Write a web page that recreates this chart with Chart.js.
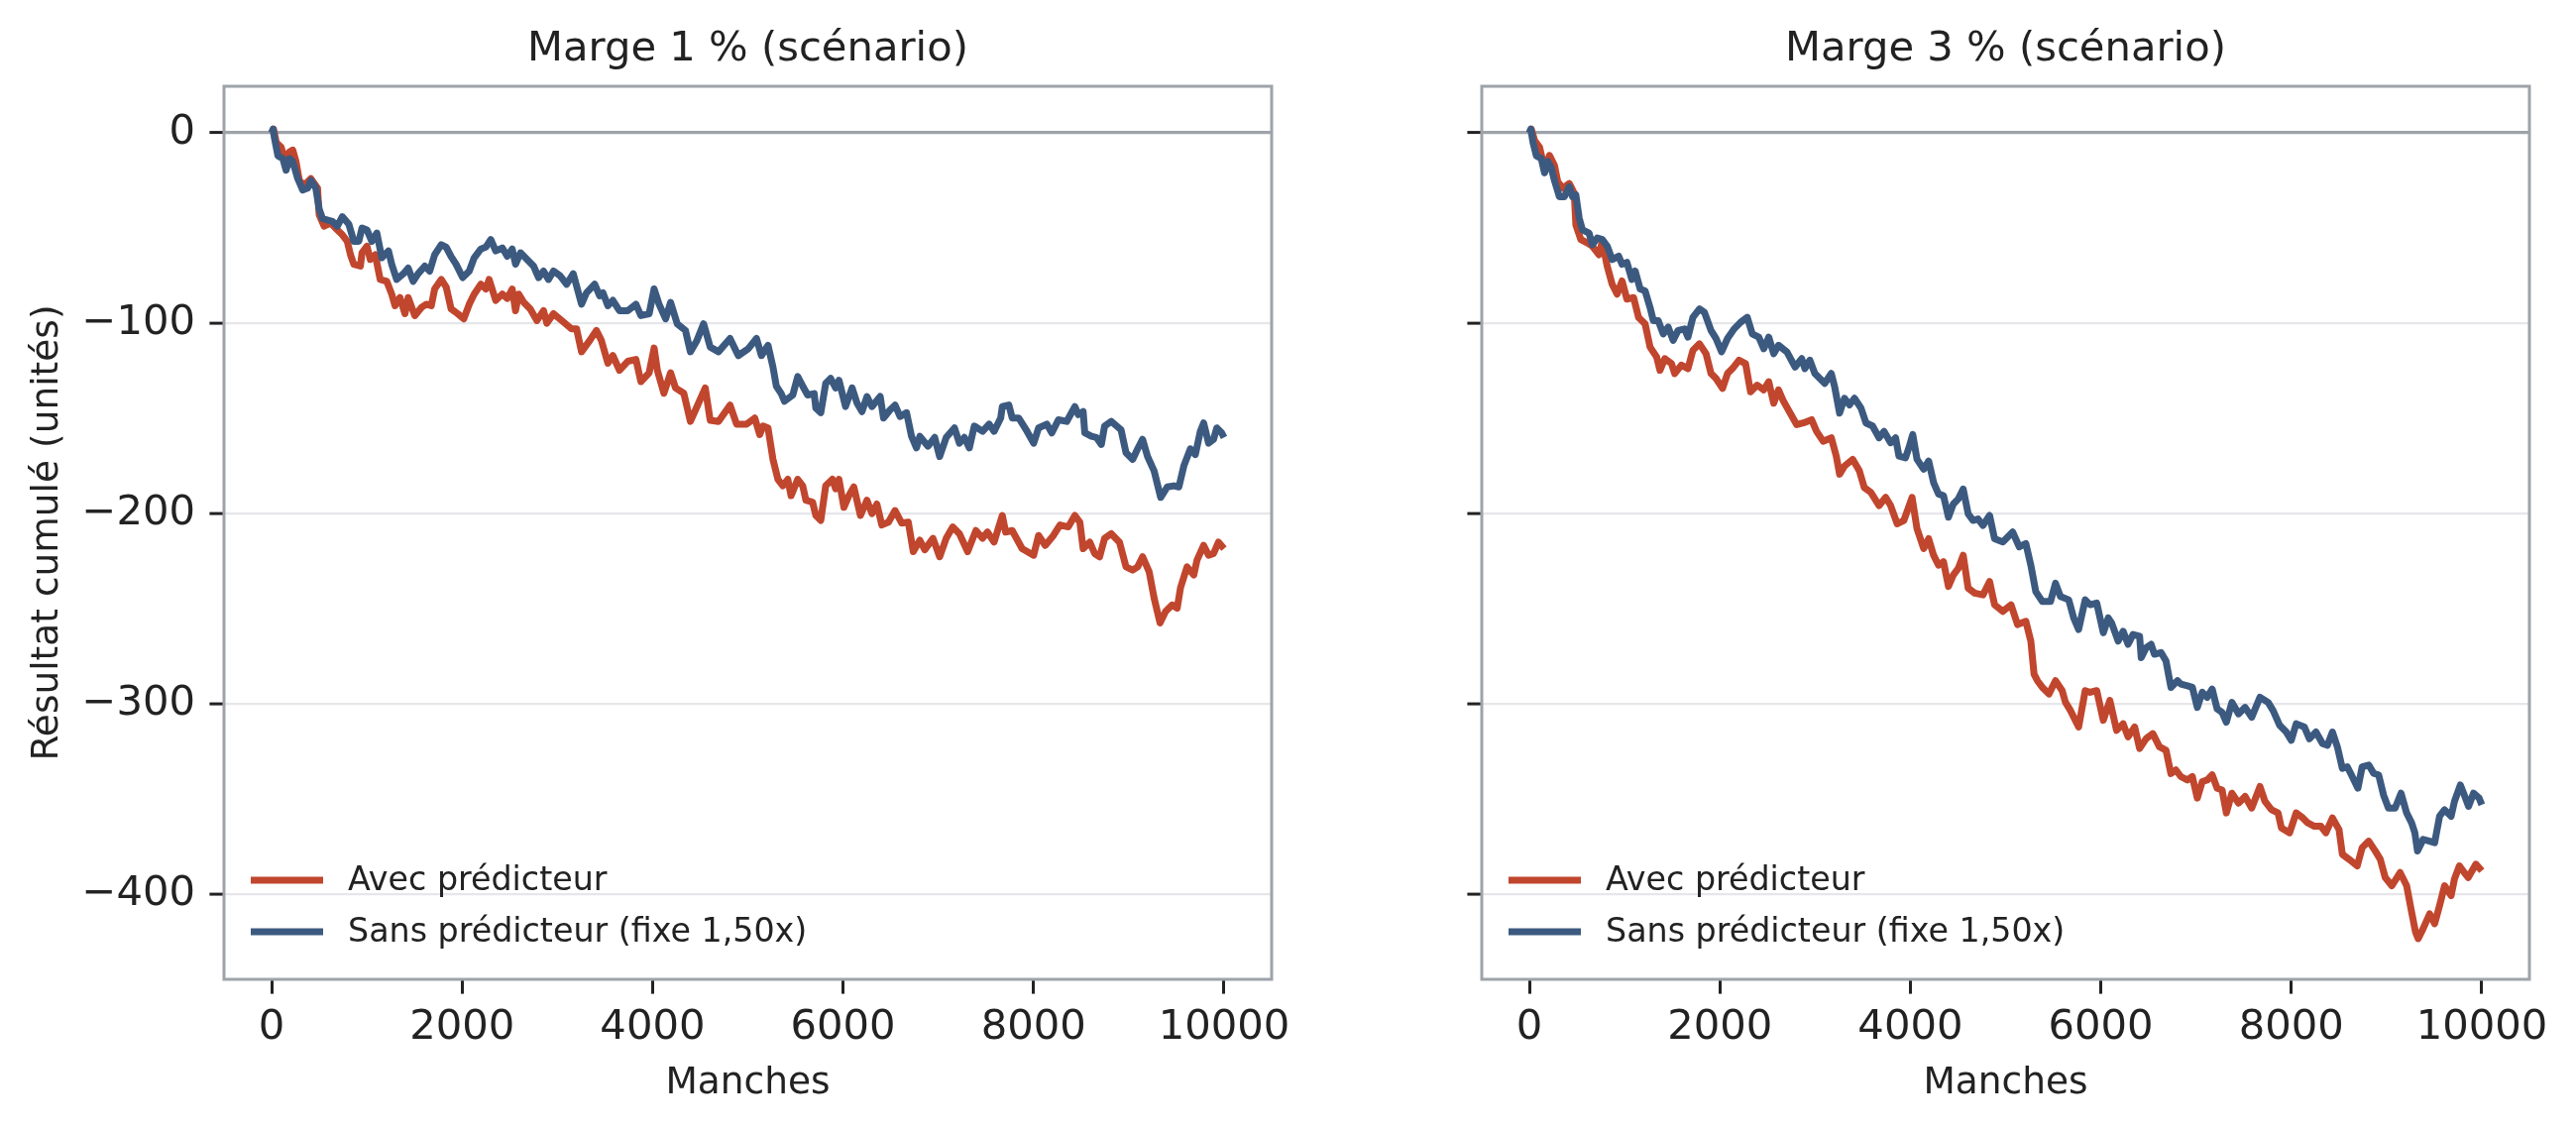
<!DOCTYPE html>
<html><head><meta charset="utf-8">
<script src="https://cdn.jsdelivr.net/npm/chart.js@4.4.1/dist/chart.umd.min.js"></script>
<style>
html,body{margin:0;padding:0;background:#fff;}
#wrap{position:relative;width:2599px;height:1140px;background:#fff;overflow:hidden;}
.box{position:absolute;top:0;height:1140px;}
#b1{left:0;width:1400px;}
#b2{left:1300px;width:1299px;}
</style></head><body>
<div id="wrap"><div class="box" id="b1"><canvas id="c1"></canvas></div><div class="box" id="b2"><canvas id="c2"></canvas></div></div>
<script>
const panelTitles = ["Marge 1 % (scénario)", "Marge 3 % (scénario)"];
const seriesLabels = ["Avec prédicteur", "Sans prédicteur (fixe 1,50x)"];
const xAxisTitle = "Manches";
const yAxisTitle = "Résultat cumulé (unités)";
const xTicks = [0, 2000, 4000, 6000, 8000, 10000];
const yTicks = [-400, -300, -200, -100, 0];
const yTickLabels = ["−400", "−300", "−200", "−100", "0"];

// Marge 1 % — Avec prédicteur
const m1AvecX = [0,20,49,100,135,187,222,256,291,343,412,482,499,551,620,690,742,794,828,863,932,949,1001,1036,1088,1140,1209,1261,1296,1348,1400,1434,1503,1573,1625,1677,1712,1781,1833,1885,1954,2017,2075,2127,2197,2249,2284,2353,2422,2474,2526,2561,2595,2647,2716,2786,2855,2890,2959,3046,3150,3202,3254,3341,3410,3462,3531,3583,3652,3739,3825,3877,3964,4016,4050,4119,4189,4241,4328,4397,4466,4553,4605,4692,4813,4882,4986,
5004,5073,5125,5160,5212,5264,5316,5368,5420,5454,5524,5576,5610,5680,5714,5766,5818,5888,5922,5957,6009,6061,6113,6182,6251,6303,6355,6407,6477,6546,6615,6685,6737,6806,6858,6944,7014,7083,7152,7222,7308,7395,7464,7516,7585,7672,7707,7776,7880,8001,8053,8123,8209,8278,8365,8434,8486,8521,8590,8642,8694,8746,8816,8902,8971,9041,9093,9145,9214,9266,9328,9387,9456,9508,9543,9612,9682,9716,9786,9838,9890,9942,10000];
const m1AvecY = [0,2,-5,-7.5,-13.5,-10,-9,-15,-25,-27.4,-24,-29,-43,-49,-47.4,-51,-53.5,-57,-64,-69,-70,-63,-59.5,-66.5,-64,-77,-78,-84.7,-90.8,-86.5,-95,-86.5,-96,-91.7,-90,-90.8,-82,-77,-81,-92.5,-95,-97.7,-90,-84.7,-79.5,-82,-77,-88,-84.7,-87,-82,-93.4,-84.7,-89,-92.5,-98.6,-93.4,-100,-95,-98.6,-103,-103,-115,-109,-103.8,-109,-121,-117,-124.7,-120,-119,-130.7,-126,-113,-124.7,-136.8,-126,-134,-136.8,-151.6,-143.8,-134,-151,-151.6,-143,-153,-153,
-152.4,-149.8,-158.5,-154,-155,-171.5,-182,-185.4,-182,-190.6,-182,-185.4,-193,-194,-201,-203.6,-185.4,-182,-187,-182,-196.7,-190.6,-186,-201,-193,-200,-195,-206,-204.5,-198.4,-205,-204.5,-220,-214,-219,-213,-222.7,-213,-207,-210.6,-220,-208.9,-213,-209.7,-215,-201,-209.7,-208.9,-218.4,-221.9,-211.5,-216.7,-211.5,-206,-207,-201,-204.5,-218.4,-215,-221,-222.7,-213,-210.6,-215,-228,-229.7,-228,-222.7,-230.6,-244.4,-257.5,-251.4,-248,-249.7,-239,-228,-232.3,-224.5,-216.7,-221.9,-221,-215,-218.4];

// Marge 1 % — Sans prédicteur
const m1SansX = [0,15,31,66,118,152,187,222,274,326,378,412,464,499,534,638,690,742,811,863,915,949,1001,1053,1105,1157,1227,1261,1313,1383,1434,1486,1538,1608,1660,1712,1781,1833,1885,1937,2006,2075,2127,2197,2249,2301,2353,2422,2474,2526,2561,2613,2682,2751,2803,2855,2907,2959,3028,3098,3167,3254,3306,3392,3444,3479,3531,3583,3652,3739,3825,3877,3964,4016,4068,4137,4189,4259,4345,4397,4466,4536,4605,4692,4813,4900,
5004,5091,5143,5212,5264,5299,5351,5385,5472,5524,5576,5628,5697,5714,5766,5818,5870,5922,5957,6026,6095,6147,6199,6251,6303,6390,6425,6494,6546,6598,6667,6719,6771,6806,6892,6962,7014,7083,7170,7222,7274,7326,7378,7465,7534,7586,7655,7672,7741,7776,7845,7932,8001,8053,8140,8192,8261,8348,8434,8469,8521,8538,8608,8660,8712,8746,8816,8919,8971,9041,9093,9145,9197,9266,9335,9405,9474,9526,9578,9647,9699,9751,9786,9838,9890,9924,9976,10000];
const m1SansY = [0,2,-3,-12,-13.5,-19.6,-13.5,-15,-24,-30,-29,-25,-29,-40,-45,-46.5,-49,-44,-48,-57,-57,-50,-51,-57,-52.6,-65.6,-62,-69,-77,-74,-71,-78,-74,-70,-72.6,-64,-58.7,-60,-65,-69,-76,-72.6,-65.6,-61,-60,-56,-62,-60.4,-64.8,-61,-69,-63,-66.5,-70,-76,-72.6,-77,-72.6,-75,-79.5,-74,-90,-84,-79.5,-85.6,-84,-90.8,-88,-93.4,-93.4,-90,-96,-95,-82,-90,-97.7,-89,-100.3,-103.8,-115,-109,-100.3,-112.5,-115,-108,-117,
-113.4,-108,-117,-111.6,-123,-133,-137,-141,-137.7,-128,-133,-137.7,-137,-144.6,-147,-131.6,-129,-134,-130,-143.8,-134,-142,-146.4,-138.5,-143.8,-138.5,-149.8,-145.5,-143,-149,-147,-159.4,-165.5,-159.4,-164.6,-160,-170,-160,-155,-163,-160,-165.5,-154,-156.8,-153,-156.8,-149.8,-143.8,-143,-149.8,-149.8,-156.8,-163,-155,-153,-157.6,-150.7,-151.6,-143.8,-148,-146.4,-157.6,-159.4,-160,-163.7,-154,-151.6,-156,-168,-171.5,-166,-161,-170,-177.6,-191.5,-186,-185.4,-186,-175,-166,-169,-156.8,-152.4,-163,-161,-155,-157.6,-160];

// Marge 3 % — Avec prédicteur
const m3AvecX = [0,20,55,107,159,211,263,298,350,419,471,488,540,609,661,730,765,817,869,921,973,1024,1094,1146,1215,1267,1336,1371,1422,1492,1526,1596,1665,1717,1786,1855,1907,1959,2028,2080,2132,2201,2270,2322,2392,2461,2513,2565,2616,2668,2738,2807,2876,2963,3015,3084,3170,3222,3257,3309,3395,3465,3516,3586,3672,3741,3793,3862,3932,4018,4070,
4140,4192,4244,4296,4348,4400,4451,4503,4555,4607,4676,4763,4832,4884,4971,5057,5126,5213,5265,5299,5334,5386,5455,5524,5594,5628,5680,5767,5836,5888,5957,6026,6095,6165,6234,6286,6355,6407,6476,6546,6615,6684,6736,6788,
6840,6909,6961,7013,7065,7117,7169,7221,7273,7318,7376,7446,7515,7584,7671,7723,7792,7861,7896,7982,8051,8121,8173,8242,8311,8363,8432,8501,8536,8605,8692,8744,8813,8882,8934,8986,9055,9142,9211,9263,9304,9332,9384,9453,9505,9557,9609,9678,9713,9765,9816,9858,9938,10000];
const m3AvecY = [0,2,-4,-7.5,-18.8,-11.8,-17,-25.7,-29,-26.6,-31.8,-48.3,-56,-57.8,-59.5,-64,-57,-70,-79.5,-84.7,-77.8,-87.3,-86.5,-96.9,-100.3,-112.5,-117.7,-124.7,-118.6,-121.2,-126.4,-122,-123.8,-114.2,-110.8,-116,-126.4,-129,-134.2,-126.4,-123.8,-119.4,-121.2,-136,-132.5,-135,-130.7,-142,-135,-141,-147.2,-153.3,-152.4,-150.7,-156.8,-162,-160.2,-169.8,-179.3,-175,-171.5,-177.6,-186.3,-188.9,-195.8,-191.5,-195.8,-205.4,-203.6,-191.5,-208,
-218.4,-213.2,-221.9,-227.1,-225.3,-238.3,-232.3,-228.8,-221.9,-239.2,-241.8,-242.7,-235.7,-247.9,-251.4,-247.9,-258.3,-256.6,-267,-284.4,-287.8,-291.3,-294.8,-287.8,-293,-299.1,-303.4,-312.1,-293,-293.9,-293,-308.6,-298.2,-313.9,-310.4,-317.3,-312.1,-323.4,-318.2,-315.6,-322.5,-324.3,-336.6,-334.7,
-338.2,-340,-338.2,-349.5,-340.8,-340,-337.3,-344.3,-345.2,-357.3,-346.9,-352.1,-348.6,-354.7,-343.4,-351.2,-355.6,-357.3,-365.1,-367.7,-357.3,-359.9,-362.5,-364.3,-364.3,-367.7,-359.9,-366,-379,-381.6,-385.1,-375.5,-372.1,-377.3,-381.6,-391.2,-395.5,-388.6,-395.5,-409.4,-419.8,-423.3,-418.1,-410.3,-415.5,-405.9,-395.5,-400.7,-392,-385.1,-388.6,-391.2,-384.2,-387.7];

// Marge 3 % — Sans prédicteur
const m3SansX = [0,15,38,73,125,159,194,228,263,315,367,419,453,488,523,557,626,661,713,765,817,869,938,973,1024,1076,1111,1163,1215,1267,1301,1353,1405,1457,1509,1561,1630,1665,1717,1786,1838,1907,1959,2018,2080,2149,2218,2288,2340,2409,2461,2513,2565,2616,2703,2790,2859,2893,2945,2997,3101,3170,3205,3257,3309,3361,3413,3482,3534,3603,3672,3724,3793,3845,3880,3949,3984,4025,4070,
4140,4192,4244,4296,4348,4400,4451,4503,4555,4607,4659,4711,4763,4832,4884,4971,5074,5144,5213,5265,5317,5386,5472,5524,5576,5663,5715,5767,5836,5888,5957,6026,6078,6113,6182,6234,6286,6338,6407,6424,6476,6528,6563,6632,6684,6736,6805,
6840,6909,6961,7013,7065,7117,7169,7221,7273,7318,7376,7446,7515,7584,7671,7757,7809,7878,7948,8000,8051,8138,8190,8259,8328,8380,8432,8484,8536,8588,8640,8699,8744,8813,8865,8917,8968,9020,9090,9152,9211,9263,9297,9325,9384,9453,9505,9557,9609,9678,9713,9775,9816,9861,9913,9972,10000];
const m3SansY = [0,2,-5,-12,-13.5,-21,-15,-18,-25,-33.5,-33.5,-28.3,-33.5,-32.6,-44.8,-50.9,-52.6,-58.7,-55.2,-56,-59.5,-66.5,-64.8,-69,-68,-77,-72.6,-82,-83,-91.7,-98.6,-98.6,-105.6,-102,-109,-103.8,-103,-107.3,-96.9,-92.5,-94.3,-103.8,-108,-115,-108,-103,-99.5,-96.9,-105.6,-107.3,-113.4,-107.3,-116,-111.6,-115,-123,-118.6,-123.8,-119.4,-126.4,-131.6,-126.4,-133.3,-147.2,-139.4,-142.9,-139.4,-144.6,-152.4,-154,-160.2,-156.8,-162.8,-160.2,-169.8,-170.7,-165.5,-158.5,-171.5,
-176.7,-172.4,-183.7,-189.7,-190.6,-201.9,-195,-192.3,-187.1,-200.1,-203.6,-202.8,-206.2,-201,-213.2,-214.9,-209.7,-217.5,-215.8,-227.1,-241,-246.2,-246.2,-236.6,-243.5,-245.3,-254.8,-260.9,-245.3,-247.9,-247,-262.6,-254.8,-257.4,-267,-261.8,-268.7,-263.5,-264.4,-275.7,-270.5,-268.7,-273.9,-273,-277.4,-291.3,-287.8,
-289.6,-290.5,-291.3,-301.8,-293.9,-296.5,-292.2,-302.6,-304.4,-309.6,-299.2,-305.2,-301.8,-307,-296.5,-299.2,-303.5,-311.3,-314.8,-319.1,-310.4,-312.2,-318.3,-314.8,-320.9,-321.7,-314.8,-322.6,-333.9,-333,-338.2,-344.3,-333,-332.1,-336.5,-337.3,-347.8,-354.7,-354.7,-346.9,-357.3,-362.5,-367.7,-377.3,-371.2,-372.1,-372.9,-359,-355.6,-359,-351.2,-342.6,-347.8,-353.8,-346.9,-349.5,-353];

const RED = '#c1462e';
const BLUE = '#3c5a80';
const TEXT = '#222222';
const SPINE = '#9ea3aa';
const GRID = '#e6e6eb';
const FONT = "'DejaVu Sans', 'Liberation Sans', sans-serif";

Chart.defaults.font.family = FONT;
Chart.defaults.color = TEXT;

const pts = (xs, ys) => xs.map((x, i) => ({x: x, y: ys[i]}));

const framePlugin = {
  id: 'frameLegend',
  afterDatasetsDraw(chart) {
    const {ctx, chartArea: a} = chart;
    ctx.save();
    ctx.strokeStyle = SPINE;
    ctx.lineWidth = 3;
    ctx.strokeRect(a.left, a.top, a.right - a.left, a.bottom - a.top);
    const rows = [a.bottom - 100, a.bottom - 48];
    ctx.font = "33.3px " + FONT;
    ctx.textBaseline = 'middle';
    ctx.textAlign = 'left';
    chart.data.datasets.forEach((ds, i) => {
      const y = rows[i];
      ctx.strokeStyle = ds.borderColor;
      ctx.lineWidth = 7;
      ctx.lineCap = 'butt';
      ctx.beginPath();
      ctx.moveTo(a.left + 27, y);
      ctx.lineTo(a.left + 100, y);
      ctx.stroke();
      ctx.fillStyle = TEXT;
      ctx.fillText(ds.label, a.left + 125, y + 1);
    });
    ctx.restore();
  }
};

function makeChart(canvasId, title, avec, sans, showYLabels, yWidth, padRight) {
  return new Chart(document.getElementById(canvasId), {
    type: 'line',
    data: {
      datasets: [
        {label: seriesLabels[0], data: avec, borderColor: RED, backgroundColor: RED, borderWidth: 7, pointRadius: 0, tension: 0, order: 2, borderJoinStyle: 'round', fill: false},
        {label: seriesLabels[1], data: sans, borderColor: BLUE, backgroundColor: BLUE, borderWidth: 7, pointRadius: 0, tension: 0, order: 1, borderJoinStyle: 'round', fill: false}
      ]
    },
    options: {
      responsive: true,
      maintainAspectRatio: false,
      devicePixelRatio: 1,
      animation: false,
      events: [],
      layout: {padding: {left: 0, right: padRight, top: 0, bottom: 0}},
      plugins: {
        legend: {display: false},
        tooltip: {enabled: false},
        title: {
          display: true, text: title, fullSize: false, color: TEXT,
          font: {size: 41.7, weight: 'normal', family: FONT},
          padding: {top: 25, bottom: 12}
        }
      },
      scales: {
        x: {
          type: 'linear', min: -500, max: 10500,
          afterBuildTicks: s => { s.ticks = xTicks.map(v => ({value: v})); },
          afterFit: s => { s.height = 152; },
          ticks: {font: {size: 41.7}, color: TEXT, padding: 10, maxRotation: 0, autoSkip: false,
                  callback: v => String(v)},
          grid: {drawOnChartArea: false, drawTicks: true, tickLength: 14.6, tickColor: TEXT, tickWidth: 3, lineWidth: 3},
          border: {display: false},
          title: {display: true, text: xAxisTitle, color: TEXT, font: {size: 37.5}, padding: {top: 0, bottom: 24.5}}
        },
        y: {
          type: 'linear', min: -444.7, max: 24.5,
          afterBuildTicks: s => { s.ticks = yTicks.map(v => ({value: v})); },
          afterFit: s => { s.width = yWidth; },
          ticks: {display: showYLabels, font: {size: 41.7}, color: TEXT, padding: 14.4, autoSkip: false,
                  callback: v => yTickLabels[yTicks.indexOf(v)]},
          grid: {
            drawTicks: true, tickLength: 14.6, tickColor: TEXT, tickWidth: 3,
            color: c => (c.tick && c.tick.value === 0) ? SPINE : GRID,
            lineWidth: c => (c.tick && c.tick.value === 0) ? 3.2 : 2.2
          },
          border: {display: false},
          title: {display: showYLabels, text: yAxisTitle, color: TEXT, font: {size: 37.5}, padding: {top: 26, bottom: 0}}
        }
      }
    },
    plugins: [framePlugin]
  });
}

makeChart('c1', panelTitles[0], pts(m1AvecX, m1AvecY), pts(m1SansX, m1SansY), true, 226, 117);
makeChart('c2', panelTitles[1], pts(m3AvecX, m3AvecY), pts(m3SansX, m3SansY), false, 195, 47);
</script>
</body></html>
